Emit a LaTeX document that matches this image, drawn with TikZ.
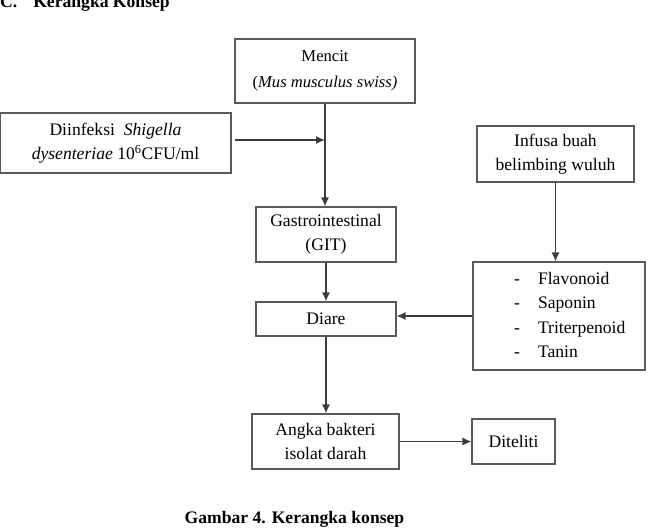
\documentclass[tikz,border=0pt]{standalone}
\usepackage{fontspec}
\setmainfont{Liberation Serif}
\usetikzlibrary{arrows.meta}
\definecolor{linec}{HTML}{3C3C3C}
\definecolor{boxc}{HTML}{5A5A5A}
\begin{document}
\begin{tikzpicture}[x=1pt,y=-1pt,
  box/.style={draw=boxc, line width=1.1pt, inner sep=0pt, align=center, font=\fontsize{17.6}{24}\selectfont},
  arr/.style={draw=linec, line width=1.3pt, -{Latex[length=9pt,width=8pt]}},
  hdr/.style={font=\fontsize{17.6}{20}\selectfont\bfseries, inner sep=0pt}]
\useasboundingbox (0,0) rectangle (650,531);
\node[hdr, anchor=base west] (head) at (0,7.5) {C.\hspace{16pt}Kerangka Konsep};
\node[box, minimum width=180pt, minimum height=64pt, font=\fontsize{16.6}{26}\selectfont] (mencit) at (325,71) {\raisebox{-2pt}{Mencit}\\\raisebox{-2pt}{(\textit{Mus musculus swiss)}}};
\node[box, minimum width=231pt, minimum height=60pt] (infeksi) at (115.5,143) {Diinfeksi\ \ \textit{Shigella}\\\textit{dysenteriae} 10\textsuperscript{6}CFU/ml};
\node[box, minimum width=157pt, minimum height=56pt] (infusa) at (555.5,154) {Infusa buah\\belimbing wuluh};
\node[box, minimum width=140pt, minimum height=55pt] (gastro) at (326,234.5) {Gastrointestinal\\(GIT)};
\node[box, minimum width=140pt, minimum height=34pt] (diare) at (326,319) {Diare};
\node[box, minimum width=172pt, minimum height=108pt] (flav) at (559,316) {};
\node[anchor=west, inner sep=0pt, align=left, font=\fontsize{17.6}{24.5}\selectfont] (flavtext) at (514,315) {-\hspace{18pt}Flavonoid\\-\hspace{18pt}Saponin\\-\hspace{18pt}Triterpenoid\\-\hspace{18pt}Tanin};
\node[box, minimum width=147pt, minimum height=55pt] (angka) at (325.5,441.5) {Angka bakteri\\isolat darah};
\node[box, minimum width=83pt, minimum height=45pt] (diteliti) at (513.5,441.5) {Diteliti};
\node[hdr, anchor=base] (caption) at (294.5,523) {Gambar 4. Kerangka konsep};
\coordinate (join) at (325,140);
\draw[arr] (mencit.south) -- (mencit.south |- gastro.north);
\draw[arr, shorten <=3pt] (infeksi.east |- join) -- (join);
\draw[arr] (infusa.south) -- (infusa.south |- flav.north);
\draw[arr] (gastro.south) -- (diare.north);
\draw[arr] (flav.west) -- (flav.west -| diare.east);
\draw[arr] (diare.south) -- (diare.south |- angka.north);
\draw[arr] (angka.east) -- (diteliti.west);
\end{tikzpicture}
\end{document}
